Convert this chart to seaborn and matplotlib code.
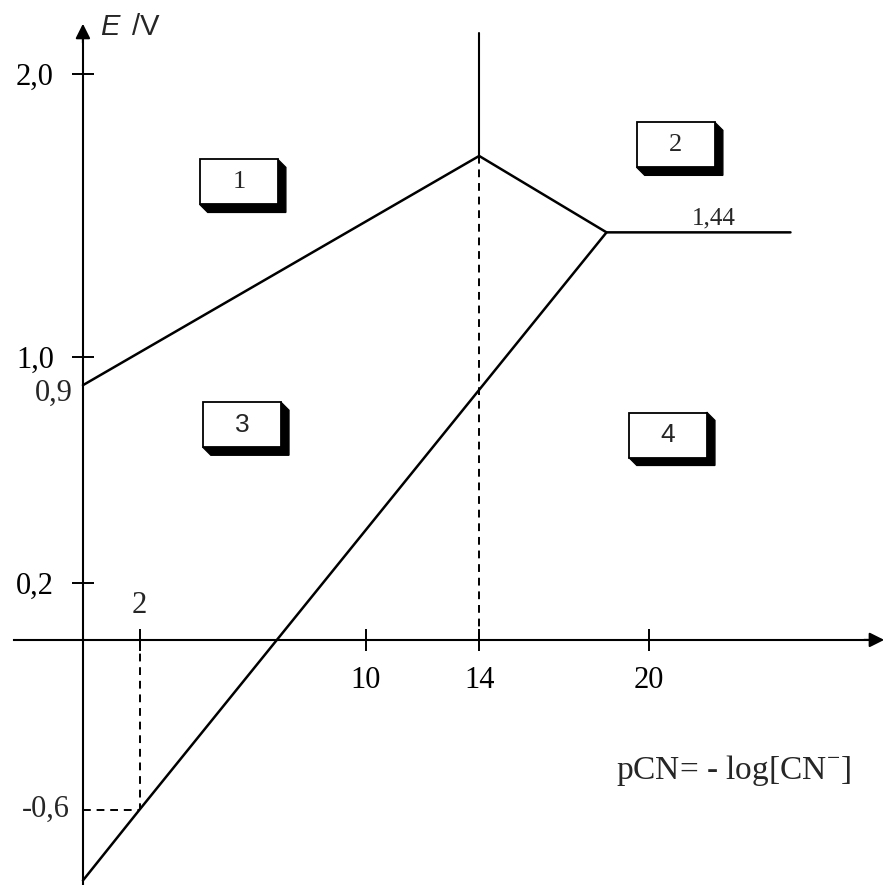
import numpy as np
import pandas as pd
import matplotlib
matplotlib.use("Agg")
import matplotlib.pyplot as plt
from matplotlib.patches import Polygon, Rectangle
import seaborn as sns

# linie w diagramie E - pCN
pcn_gora = [0, 14, 18.5, 25.0]
e_gora = [0.9, 1.71, 1.44, 1.44]
pcn_dol = [0, 2, 18.5]
e_dol = [-0.85, -0.6, 1.44]
pcn_pion = [14, 14]
e_pion = [1.71, 2.145]

yticks = [2.0, 1.0, 0.2]
ytick_labels = ["2,0", "1,0", "0,2"]
xticks = [2, 10, 14, 20]
xtick_labels = ["", "10", "14", "20"]

obszary = ["1", "2", "3", "4"]
obszary_xy = [(5.51, 1.618), (20.95, 1.749), (5.62, 0.760), (20.67, 0.724)]
obszary_font = ["Liberation Serif", "Liberation Serif", "Liberation Sans", "Liberation Sans"]

sns.set_theme(style="white")
plt.rcParams["font.family"] = ["Liberation Serif", "DejaVu Sans"]
plt.rcParams["mathtext.fontset"] = "custom"
plt.rcParams["mathtext.rm"] = "Liberation Serif"

fig = plt.figure(figsize=(8.87, 8.85), dpi=100)
ax = fig.add_axes([0, 0, 1, 1])
ax.set_xlim(-2.93, 28.41)
ax.set_ylim(-0.866, 2.261)
ax.set_facecolor("white")

# osie
for s in ["top", "right"]:
    ax.spines[s].set_visible(False)
ax.spines["left"].set_position(("data", 0))
ax.spines["bottom"].set_position(("data", 0))
ax.spines["left"].set_bounds(-0.9, 2.15)
ax.spines["bottom"].set_bounds(-2.44, 28.0)
for s in ["left", "bottom"]:
    ax.spines[s].set_linewidth(1.5)
    ax.spines[s].set_color("black")
ax.annotate("", xy=(0, 2.187), xytext=(0, 2.10),
            arrowprops=dict(arrowstyle="-|>", color="black", lw=1.5, mutation_scale=22))
ax.annotate("", xy=(28.41, 0), xytext=(27.5, 0),
            arrowprops=dict(arrowstyle="-|>", color="black", lw=1.5, mutation_scale=22),
            annotation_clip=False)

ax.set_xticks(xticks)
ax.set_xticklabels(xtick_labels)
ax.set_yticks(yticks)
ax.set_yticklabels(ytick_labels)
ax.tick_params(bottom=True, left=True, direction="inout", length=16, width=1.4,
               colors="black", labelsize=22)
ax.tick_params(axis="x", pad=11)
ax.tick_params(axis="y", pad=13)
ax.grid(False)

ax.text(2, 0.12, "2", fontsize=22, ha="center", va="center")
ax.text(-0.35, 0.87, "0,9", fontsize=22, ha="right", va="center")
ax.text(-0.45, -0.6, "-0,6", fontsize=22, ha="right", va="center")

# linie
df_gora = pd.DataFrame({"pCN": pcn_gora, "E": e_gora})
df_dol = pd.DataFrame({"pCN": pcn_dol, "E": e_dol})
df_pion = pd.DataFrame({"pCN": pcn_pion, "E": e_pion})
sns.lineplot(data=df_gora, x="pCN", y="E", sort=False, estimator=None, color="black", lw=1.8, ax=ax)
sns.lineplot(data=df_dol, x="pCN", y="E", sort=False, estimator=None, color="black", lw=1.8, ax=ax)
sns.lineplot(data=df_pion, x="pCN", y="E", sort=False, estimator=None, color="black", lw=1.5, ax=ax)
ax.set_xlabel("")
ax.set_ylabel("")

# linie przerywane
ax.plot([pcn_gora[1], pcn_gora[1]], [0, e_gora[1]], color="black", lw=1.4, ls=(0, (4, 3)))
ax.plot([pcn_dol[1], pcn_dol[1]], [0, e_dol[1]], color="black", lw=1.4, ls=(0, (4, 3)))
ax.plot([0, pcn_dol[1]], [e_dol[1], e_dol[1]], color="black", lw=1.4, ls=(0, (4, 3)))

ax.text(22.3, 1.45, "1,44", fontsize=18, ha="center", va="bottom")

# ramki z cieniem
w, h = 2.76, 0.159
dx, dy = 0.28, 0.028
for lab, (cx, cy), fnt in zip(obszary, obszary_xy, obszary_font):
    L, R = cx - w / 2, cx + w / 2
    B, T = cy - h / 2, cy + h / 2
    cien = Polygon([(R, T), (R + dx, T - dy), (R + dx, B - dy), (L + dx, B - dy), (L, B)],
                   closed=True, facecolor="black", edgecolor="black", lw=1, zorder=4)
    ax.add_patch(cien)
    ax.add_patch(Rectangle((L, B), w, h, facecolor="white", edgecolor="black", lw=1.3, zorder=5))
    ax.text(cx, cy, lab, fontsize=19, ha="center", va="center", family=fnt, zorder=6)

ax.text(0.6, 2.165, "E", fontsize=21, ha="left", va="center",
        family="Liberation Sans", style="italic")
ax.text(1.75, 2.165, "/V", fontsize=21, ha="left", va="center", family="Liberation Sans")
ax.text(23.0, -0.46, r"pCN= - log[CN$^{\mathrm{-}}$]", fontsize=24, ha="center", va="center")

fig.savefig("out.png", dpi=100)
